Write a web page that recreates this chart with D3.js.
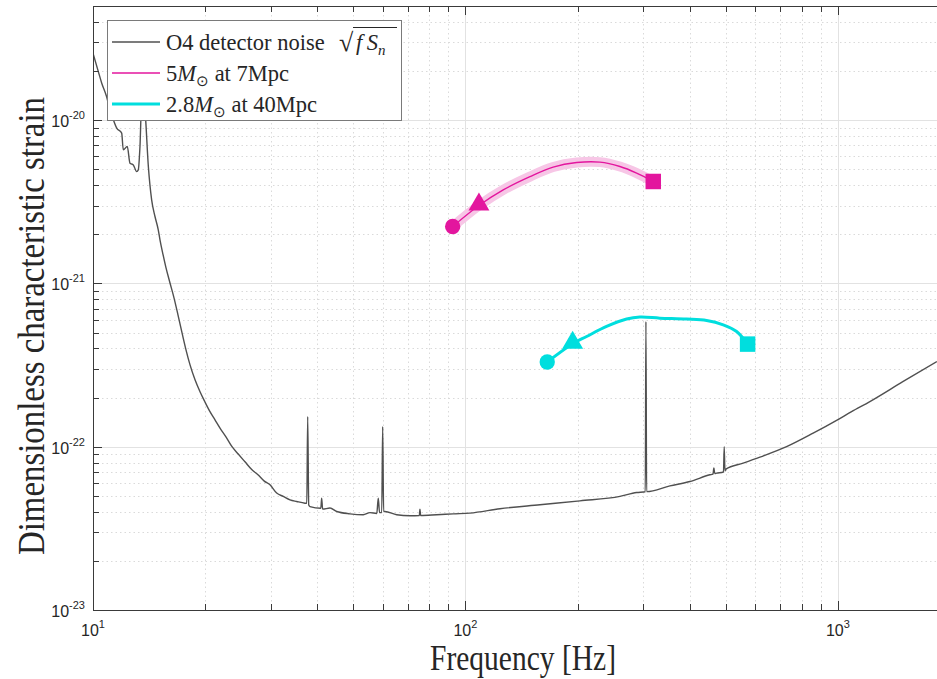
<!DOCTYPE html>
<html>
<head>
<meta charset="utf-8">
<title>O4 detector noise</title>
<script src="https://cdn.jsdelivr.net/npm/d3@7"></script>
<style>
  body { margin: 0; background: #fff; }
  text { fill: #262626; }
</style>
</head>
<body>
<svg id="chart" width="937" height="679"></svg>
<script>
// O4 detector noise sqrt(f Sn)
const noiseFreq = [10.0, 10.33, 10.55, 10.88, 11.10, 11.22, 11.58, 11.94, 12.06, 12.36, 12.57, 12.83, 13.10, 13.23, 13.37, 13.54, 13.79, 14.08, 14.37, 14.67, 14.97, 15.13,
  15.42, 15.70, 16.09, 16.50, 16.91, 17.34, 17.77, 18.22, 18.79, 19.38, 19.98, 20.61, 21.26, 21.93, 22.75, 23.62, 24.51, 25.59, 26.72, 27.73, 28.78, 29.87,
  31.13, 32.43, 33.80, 35.23, 37.08, 37.5, 37.71, 37.95, 38.25, 40.9, 41.11, 41.35, 43.28, 45.11, 48.96, 53.17, 55.42, 57.8, 58.34, 58.8, 59.6, 59.95, 60.3, 60.81,
  65.37, 70.96, 75.2, 75.48, 75.8, 83.68, 92.76, 102.8, 123.8, 158.5, 203.0, 259.9, 288.2, 304.0, 305.2, 306.5, 354.0, 400.6, 453.3, 462, 464.6, 467, 472.5,
  493, 495.2, 497.5, 500.4, 556.9, 617.5, 728.2, 858.3, 992.0, 1088.4, 1218.6, 1497.8, 1844];
const noiseStrain = [2.57e-20, 1.99e-20, 1.69e-20, 1.39e-20, 1.16e-20, 1.08e-20, 8.93e-21, 8.33e-21, 6.58e-21, 6.89e-21, 5.45e-21, 5.32e-21, 4.84e-21, 4.96e-21, 6.89e-21, 1.5e-20, 1.16e-20, 5.20e-21, 3.25e-21, 2.57e-21, 2.13e-21, 1.85e-21,
  1.50e-21, 1.25e-21, 1.01e-21, 8.16e-22, 6.42e-22, 4.98e-22, 3.92e-22, 3.17e-22, 2.57e-22, 2.17e-22, 1.88e-22, 1.64e-22, 1.46e-22, 1.30e-22, 1.15e-22, 1.00e-22, 9.05e-23, 8.08e-23, 7.22e-23, 6.73e-23, 6.18e-23, 5.84e-23,
  5.20e-23, 4.96e-23, 4.73e-23, 4.62e-23, 4.51e-23, 4.5e-23, 1.53e-22, 4.4e-23, 4.30e-23, 4.2e-23, 4.84e-23, 4.15e-23, 4.21e-23, 4.01e-23, 3.88e-23, 3.83e-23, 3.95e-23, 3.9e-23, 4.84e-23, 3.95e-23, 3.95e-23, 1.33e-22, 4.01e-23, 4.01e-23,
  3.83e-23, 3.78e-23, 3.79e-23, 4.15e-23, 3.79e-23, 3.83e-23, 3.88e-23, 3.92e-23, 4.17e-23, 4.41e-23, 4.66e-23, 4.96e-23, 5.24e-23, 5.30e-23, 5.84e-22, 5.31e-23, 5.76e-23, 6.12e-23, 6.73e-23, 6.8e-23, 7.40e-23, 6.85e-23, 6.89e-23,
  7.0e-23, 1.00e-22, 7.1e-23, 7.29e-23, 7.93e-23, 8.63e-23, 1.00e-22, 1.21e-22, 1.45e-22, 1.64e-22, 1.89e-22, 2.51e-22, 3.32e-22];

// 5 Msun at 7 Mpc
const pinkFreq = [92.4, 108.7, 126.3, 149, 172, 198.9, 229.6, 259.9, 288.2, 319.4];
const pinkStrain = [2.23e-21, 3.0e-21, 3.74e-21, 4.51e-21, 5.16e-21, 5.50e-21, 5.53e-21, 5.20e-21, 4.74e-21, 4.21e-21];

// 2.8 Msun at 40 Mpc
const cyanFreq = [165.8, 194, 211.5, 239.3, 270.9, 294.1, 332.7, 392.5, 444.2, 492.2, 534.6, 572.3];
const cyanStrain = [3.30e-22, 4.27e-22, 4.73e-22, 5.45e-22, 6.05e-22, 6.22e-22, 6.13e-22, 6.05e-22, 5.93e-22, 5.58e-22, 5.08e-22, 4.25e-22];

const xMajor = [10, 100, 1000];
const yMajor = [1e-23, 1e-22, 1e-21, 1e-20];
const xExp = ["1", "2", "3"];
const yExp = ["-23", "-22", "-21", "-20"];

const pink = "#e3169e", cyan = "#00dede", noiseCol = "#505050";

const svg = d3.select("#chart");
const pLeft = 93, pRight = 950, pTop = 6, pBottom = 610;

const x = d3.scaleLog().domain([10, 2000]).range([pLeft, pRight]);
const y = d3.scaleLog().domain([1e-23, 5e-20]).range([pBottom, pTop]);

// minor tick values 2..9 in every decade
function minors(lo, hi, maxV) {
  const out = [];
  for (let e = lo; e <= hi; e++) for (let m = 2; m <= 9; m++) {
    const v = +(m + "e" + e);
    if (v <= maxV) out.push(v);
  }
  return out;
}
const xMinor = minors(1, 3, 2000);
const yMinor = minors(-23, -20, 5e-20);

svg.append("defs").append("clipPath").attr("id", "plot")
  .append("rect").attr("x", pLeft).attr("y", pTop).attr("width", pRight - pLeft).attr("height", pBottom - pTop);

// grid
const grid = svg.append("g");
grid.selectAll(".xmin").data(xMinor).join("line")
  .attr("x1", d => Math.round(x(d)) + 0.5).attr("x2", d => Math.round(x(d)) + 0.5)
  .attr("y1", pTop).attr("y2", pBottom)
  .attr("stroke", "#dadada").attr("stroke-dasharray", "1.5,3");
grid.selectAll(".ymin").data(yMinor).join("line")
  .attr("y1", d => Math.round(y(d)) + 0.5).attr("y2", d => Math.round(y(d)) + 0.5)
  .attr("x1", pLeft).attr("x2", pRight)
  .attr("stroke", "#dadada").attr("stroke-dasharray", "1.5,3");
grid.selectAll(".xmaj").data(xMajor).join("line")
  .attr("x1", d => Math.round(x(d)) + 0.5).attr("x2", d => Math.round(x(d)) + 0.5)
  .attr("y1", pTop).attr("y2", pBottom).attr("stroke", "#e2e2e2");
grid.selectAll(".ymaj").data(yMajor).join("line")
  .attr("y1", d => Math.round(y(d)) + 0.5).attr("y2", d => Math.round(y(d)) + 0.5)
  .attr("x1", pLeft).attr("x2", pRight).attr("stroke", "#e2e2e2");

const plot = svg.append("g").attr("clip-path", "url(#plot)");

// noise curve
const noise = noiseFreq.map((f, i) => [f, noiseStrain[i]]);
plot.append("path").datum(noise)
  .attr("fill", "none").attr("stroke", noiseCol).attr("stroke-width", 1.4)
  .attr("d", d3.line().x(d => x(d[0])).y(d => y(d[1])).curve(d3.curveMonotoneX));

const smooth = d3.line().x(d => x(d[0])).y(d => y(d[1])).curve(d3.curveCatmullRom);

// pink track with a soft band
const pinkPts = pinkFreq.map((f, i) => [f, pinkStrain[i]]);
plot.append("path").datum(pinkPts)
  .attr("fill", "none").attr("stroke", "#f7c6e6").attr("stroke-width", 10)
  .attr("stroke-linecap", "round").attr("d", smooth);
plot.append("path").datum(pinkPts)
  .attr("fill", "none").attr("stroke", pink).attr("stroke-width", 1.4).attr("d", smooth);

// cyan track
const cyanPts = cyanFreq.map((f, i) => [f, cyanStrain[i]]);
plot.append("path").datum(cyanPts)
  .attr("fill", "none").attr("stroke", cyan).attr("stroke-width", 3).attr("d", smooth);

// start / early / end markers
function markers(pts, col) {
  const first = pts[0], second = pts[1], last = pts[pts.length - 1];
  plot.append("path").attr("transform", `translate(${x(first[0])},${y(first[1])})`)
    .attr("d", d3.symbol(d3.symbolCircle, 185)()).attr("fill", col);
  plot.append("path").attr("transform", `translate(${x(second[0])},${y(second[1]) - 1})`)
    .attr("d", d3.symbol(d3.symbolTriangle, 190)()).attr("fill", col);
  plot.append("path").attr("transform", `translate(${x(last[0])},${y(last[1])})`)
    .attr("d", d3.symbol(d3.symbolSquare, 240)()).attr("fill", col);
}
markers(pinkPts, pink);
markers(cyanPts, cyan);

// axes box and ticks
const axis = svg.append("g").attr("stroke", "#3a3a3a").attr("shape-rendering", "crispEdges");
axis.append("line").attr("x1", pLeft + 0.5).attr("x2", pLeft + 0.5).attr("y1", pTop).attr("y2", pBottom + 1);
axis.append("line").attr("x1", pLeft).attr("x2", 937).attr("y1", pBottom + 0.5).attr("y2", pBottom + 0.5);
axis.append("line").attr("x1", pLeft).attr("x2", 937).attr("y1", pTop + 0.5).attr("y2", pTop + 0.5);

function xTicks(vals, len) {
  vals.forEach(v => {
    const px = Math.round(x(v)) + 0.5;
    axis.append("line").attr("x1", px).attr("x2", px).attr("y1", pBottom).attr("y2", pBottom - len);
    axis.append("line").attr("x1", px).attr("x2", px).attr("y1", pTop).attr("y2", pTop + len);
  });
}
function yTicks(vals, len) {
  vals.forEach(v => {
    const py = Math.round(y(v)) + 0.5;
    axis.append("line").attr("y1", py).attr("y2", py).attr("x1", pLeft).attr("x2", pLeft + len);
  });
}
xTicks(xMajor, 9); xTicks(xMinor, 6);
yTicks(yMajor, 9); yTicks(yMinor, 6);

// tick labels with exponents
const tickFont = "'Liberation Sans', Arial, sans-serif";
xMajor.forEach((v, i) => {
  const t = svg.append("text").attr("x", x(v)).attr("y", 636)
    .attr("text-anchor", "middle").attr("font-family", tickFont).attr("font-size", 16);
  t.append("tspan").text("10");
  t.append("tspan").attr("dy", -8).attr("font-size", 11).text(xExp[i]);
});
yMajor.forEach((v, i) => {
  const t = svg.append("text").attr("x", 85).attr("y", y(v) + 7)
    .attr("text-anchor", "end").attr("font-family", tickFont).attr("font-size", 16);
  t.append("tspan").text("10");
  t.append("tspan").attr("dy", -8).attr("font-size", 11).text(yExp[i]);
});

// axis titles
const serif = "'Liberation Serif', 'Times New Roman', serif";
svg.append("text").attr("x", 523).attr("y", 670).attr("text-anchor", "middle")
  .attr("font-family", serif).attr("font-size", 36)
  .attr("textLength", 186).attr("lengthAdjust", "spacingAndGlyphs")
  .text("Frequency [Hz]");
svg.append("text").attr("transform", "translate(44,326) rotate(-90)").attr("text-anchor", "middle")
  .attr("font-family", serif).attr("font-size", 37)
  .attr("textLength", 458).attr("lengthAdjust", "spacingAndGlyphs")
  .text("Dimensionless characteristic strain");

// legend
const lg = svg.append("g").attr("font-family", serif).attr("font-size", 22.5);
lg.append("rect").attr("x", 107.5).attr("y", 20.5).attr("width", 294).attr("height", 100)
  .attr("fill", "#fff").attr("stroke", "#7a7a7a");
const rows = [42, 73, 104];
lg.append("line").attr("x1", 112).attr("x2", 160).attr("y1", rows[0]).attr("y2", rows[0])
  .attr("stroke", noiseCol).attr("stroke-width", 1.3);
lg.append("line").attr("x1", 112).attr("x2", 160).attr("y1", rows[1]).attr("y2", rows[1])
  .attr("stroke", pink).attr("stroke-width", 1.4);
lg.append("line").attr("x1", 112).attr("x2", 160).attr("y1", rows[2]).attr("y2", rows[2])
  .attr("stroke", cyan).attr("stroke-width", 3);

lg.append("text").attr("x", 166).attr("y", rows[0] + 8).text("O4 detector noise");
lg.append("text").attr("x", 339).attr("y", rows[0] + 9).attr("font-size", 26).text("\u221A");
const sq = lg.append("text").attr("x", 356).attr("y", rows[0] + 8).attr("font-style", "italic");
sq.append("tspan").text("f\u2009S");
sq.append("tspan").attr("dy", 5).attr("font-size", 15).text("n");
lg.append("line").attr("x1", 353).attr("x2", 397).attr("y1", 27.5).attr("y2", 27.5)
  .attr("stroke", "#262626").attr("stroke-width", 1);

function massLabel(yy, num, rest) {
  const t = lg.append("text").attr("x", 166).attr("y", yy + 8);
  t.append("tspan").text(num);
  t.append("tspan").attr("font-style", "italic").text("M");
  t.append("tspan").attr("dy", 5).attr("font-size", 15).text("\u2299");
  t.append("tspan").attr("dy", -5).text(rest);
}
massLabel(rows[1], "5", " at 7Mpc");
massLabel(rows[2], "2.8", " at 40Mpc");
</script>
</body>
</html>
